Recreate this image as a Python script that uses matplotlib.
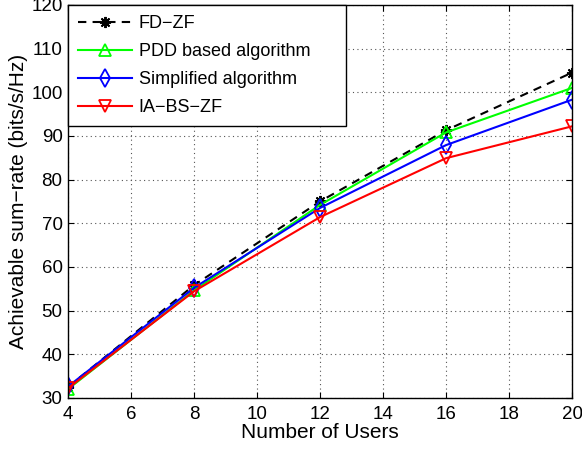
import numpy as np
import matplotlib.pyplot as plt

plt.rcParams['font.family'] = ['Liberation Sans', 'DejaVu Sans']

users = [4, 8, 12, 16, 20]
fd_zf = [32.5, 55.8, 75.0, 91.3, 104.5]
pdd = [32.0, 54.6, 74.2, 90.8, 101.0]
simplified = [32.6, 55.2, 73.5, 87.9, 98.3]
ia_bs_zf = [32.2, 54.4, 71.4, 84.9, 92.2]

fig = plt.figure(figsize=(5.82, 4.5), dpi=100)
ax = fig.add_axes([0.117, 0.116, 0.866, 0.873])

ax.plot(users, fd_zf, color='k', ls=(0, (4, 3)), marker=(8, 2, 0), ms=8, mew=1.4, lw=1.5,
        label='FD\u2212ZF')
ax.plot(users, pdd, '-', color='#00ff00', marker='^', ms=9, mfc='none', mew=1.3, lw=1.5,
        label='PDD based algorithm')
ax.plot(users, simplified, '-', color='#0000ff', marker='d', ms=9, mfc='none', mew=1.3, lw=1.5,
        label='Simplified algorithm')
ax.plot(users, ia_bs_zf, '-', color='#ff0000', marker='v', ms=9, mfc='none', mew=1.3, lw=1.5,
        label='IA\u2212BS\u2212ZF')

ax.set_xlim(4, 20)
ax.set_ylim(30, 120)
ax.set_xticks(np.arange(4, 21, 2))
ax.set_yticks(np.arange(30, 121, 10))
ax.tick_params(direction='in', top=True, right=True, labelsize=13.5, length=4)
ax.tick_params(axis='x', pad=6)
ax.tick_params(axis='y', pad=4)
ax.grid(True, linestyle=(0, (1, 3)), color='#555555', lw=0.8)
for s in ax.spines.values():
    s.set_linewidth(1.0)

ax.set_xlabel('Number of Users', fontsize=15, labelpad=0)
ax.set_ylabel('Achievable sum\u2212rate (bits/s/Hz)', fontsize=15, labelpad=2)

leg = ax.legend(loc='upper left', bbox_to_anchor=(0, 0, 0.552, 1), mode='expand',
                fontsize=13, borderaxespad=0, fancybox=False,
                edgecolor='k', framealpha=1, handlelength=3.0, handletextpad=0.35,
                borderpad=0.55, labelspacing=0.62)
leg.get_frame().set_linewidth(1.0)

fig.savefig('out.png', dpi=100)
